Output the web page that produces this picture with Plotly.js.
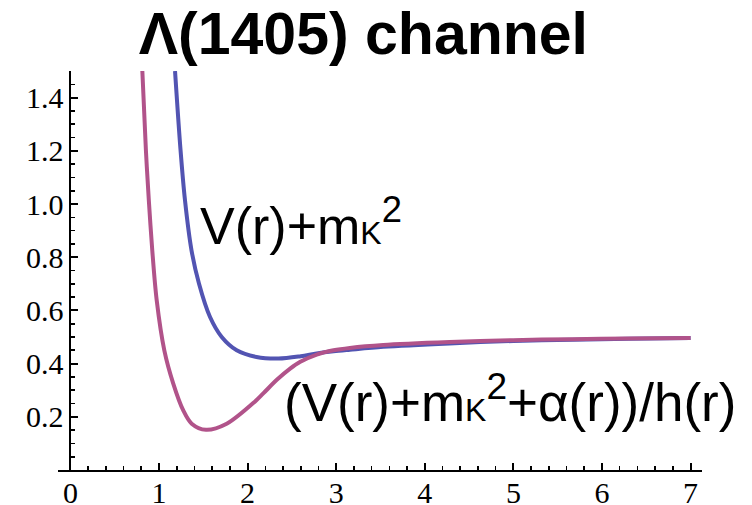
<!DOCTYPE html>
<html>
<head>
<meta charset="utf-8">
<script src="https://cdn.plot.ly/plotly-3.0.1.min.js"></script>
<style>
  html, body { margin: 0; padding: 0; background: #fff; }
  #plot { width: 752px; height: 505px; }
</style>
</head>
<body>
<div id="plot"></div>
<script>
// V(r) + m_K^2
const rV = [1.181, 1.243, 1.293, 1.367, 1.451, 1.576, 1.708, 1.877, 2.10, 2.35, 2.60, 2.78, 2.97, 3.155, 3.53, 4.28, 5.0, 5.67, 6.3, 7.0];
const vV = [1.50, 1.203, 1.015, 0.826, 0.701, 0.575, 0.500, 0.450, 0.425, 0.419, 0.428, 0.438, 0.446, 0.452, 0.463, 0.476, 0.485, 0.490, 0.493, 0.496];

// (V(r) + m_K^2 + alpha(r)) / h(r)
const rW = [0.812, 0.852, 0.885, 0.924, 0.974, 1.060, 1.161, 1.274, 1.369, 1.530, 1.764, 2.082, 2.177, 2.33, 2.48, 2.59, 2.78, 2.97, 3.155, 3.53, 4.28, 5.0, 5.67, 6.3, 7.0];
const vW = [1.50, 1.203, 1.015, 0.826, 0.638, 0.450, 0.325, 0.224, 0.174, 0.151, 0.174, 0.257, 0.288, 0.339, 0.381, 0.406, 0.434, 0.450, 0.459, 0.470, 0.481, 0.488, 0.492, 0.494, 0.496];

const xTicks = [0, 1, 2, 3, 4, 5, 6, 7];
const yTicks = [0.2, 0.4, 0.6, 0.8, 1.0, 1.2, 1.4];

const titleText = 'Λ(1405) channel';
const labelV = 'V(r)+m<span style="font-size:32px">K</span><sup>2</sup>';
const labelW = '(V(r)+m<span style="font-size:32px">K</span><sup>2</sup>+α(r))/h(r)';

const blue = '#5254b2';
const pink = '#b1538a';

const traces = [
  { x: rV, y: vV, mode: 'lines', line: { color: blue, width: 4, shape: 'spline', smoothing: 0.9 }, hoverinfo: 'skip' },
  { x: rW, y: vW, mode: 'lines', line: { color: pink, width: 4, shape: 'spline', smoothing: 0.9 }, hoverinfo: 'skip' }
];

const sans = 'Liberation Sans, Arial, Helvetica, sans-serif';
const serif = 'Liberation Serif, Times New Roman, serif';

const layout = {
  width: 752, height: 505,
  margin: { l: 58, r: 50, t: 71, b: 35 },
  paper_bgcolor: '#fff', plot_bgcolor: '#fff',
  font: { family: serif, size: 30, color: '#000' },
  showlegend: false,
  title: {
    text: titleText,
    font: { family: sans, size: 59, color: '#000', weight: 'bold' },
    x: 0.4832, xanchor: 'center', xref: 'container',
    y: 0.975, yanchor: 'top', yref: 'container'
  },
  xaxis: {
    range: [-0.14, 7.129],
    showgrid: false, zeroline: false,
    showline: true, linecolor: '#000', linewidth: 2,
    ticks: 'inside', ticklen: 7, tickwidth: 2, tickcolor: '#000',
    tickvals: xTicks, ticktext: xTicks.map(String),
    ticklabelstandoff: -5,
    tickfont: { family: serif, size: 30, color: '#000' },
    minor: { dtick: 0.2, ticks: 'inside', ticklen: 4, tickwidth: 1.6, tickcolor: '#000' }
  },
  yaxis: {
    range: [0, 1.5],
    anchor: 'free', position: 0.01925,
    showgrid: false, zeroline: false,
    showline: true, linecolor: '#000', linewidth: 2,
    ticks: 'inside', ticklen: 7, tickwidth: 2, tickcolor: '#000',
    tickvals: yTicks, ticktext: yTicks.map(v => v.toFixed(1)),
    tickfont: { family: serif, size: 30, color: '#000' },
    minor: { dtick: 0.05, ticks: 'inside', ticklen: 4, tickwidth: 1.6, tickcolor: '#000' }
  },
  annotations: [
    { text: labelV, xref: 'x', yref: 'y', x: 1.445, y: 0.934, xanchor: 'left', yanchor: 'middle',
      showarrow: false, font: { family: sans, size: 52, color: '#000' } },
    { text: labelW, xref: 'x', yref: 'y', x: 2.39, y: 0.267, xanchor: 'left', yanchor: 'middle',
      showarrow: false, font: { family: sans, size: 53, color: '#000' } }
  ]
};

Plotly.newPlot('plot', traces, layout, { staticPlot: true, displayModeBar: false });
</script>
</body>
</html>
